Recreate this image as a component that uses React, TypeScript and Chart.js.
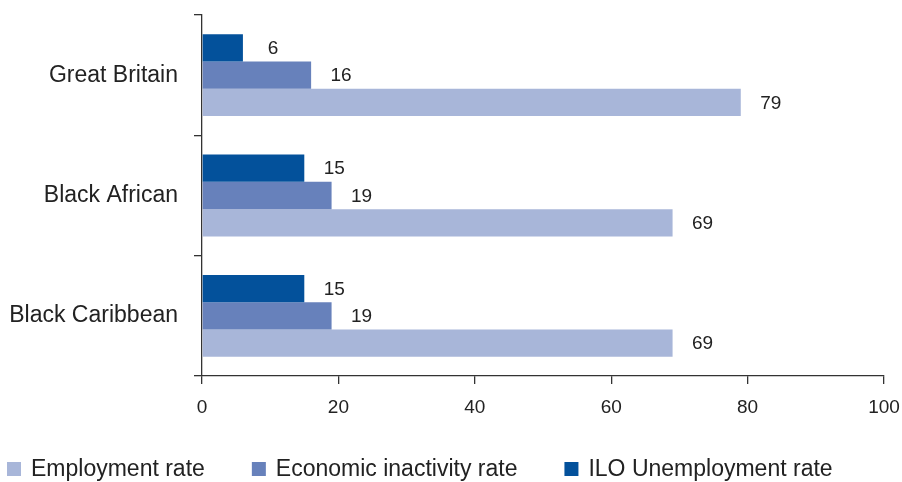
import React, { useEffect, useRef } from "react";
import { Chart, registerables } from "chart.js";

Chart.register(...registerables);

const categories = ["Great Britain", "Black African", "Black Caribbean"];
const unemploymentRate = [6, 15, 15];
const inactivityRate = [16, 19, 19];
const employmentRate = [79, 69, 69];
const xTicks = [0, 20, 40, 60, 80, 100];

const COLOR_UNEMP = "#03519b";
const COLOR_INACT = "#6781bb";
const COLOR_EMP = "#a8b6d9";
const AXIS = "#333333";
const TEXT = "#222222";
const FONT = "'Liberation Sans', Arial, sans-serif";

// Numbers printed just past the end of each bar
const valueLabels = {
  id: "valueLabels",
  afterDatasetsDraw(chart: any) {
    const ctx = chart.ctx;
    ctx.save();
    ctx.font = `19px ${FONT}`;
    ctx.fillStyle = TEXT;
    ctx.textAlign = "center";
    ctx.textBaseline = "middle";
    chart.data.datasets.forEach((ds: any, i: number) => {
      const meta = chart.getDatasetMeta(i);
      meta.data.forEach((bar: any, j: number) => {
        ctx.fillText(String(ds.data[j]), bar.x + 30, bar.y + 1);
      });
    });
    ctx.restore();
  },
};

// Bottom legend: square swatch, label, listed bottom series first
const bottomLegend = {
  id: "bottomLegend",
  afterDraw(chart: any) {
    const ctx = chart.ctx;
    const items = [...chart.data.datasets].reverse();
    const cy = 469;
    let x = 7;
    ctx.save();
    ctx.font = `23px ${FONT}`;
    ctx.textBaseline = "middle";
    ctx.textAlign = "left";
    items.forEach((ds: any) => {
      ctx.fillStyle = ds.backgroundColor;
      ctx.fillRect(x, cy - 7, 14, 14);
      const tx = x + 24;
      ctx.fillStyle = TEXT;
      ctx.fillText(ds.label, tx, cy + 1);
      x = tx + ctx.measureText(ds.label).width + 47;
    });
    ctx.restore();
  },
};

export default function App() {
  const ref = useRef<HTMLCanvasElement>(null);

  useEffect(() => {
    document.body.style.margin = "0";
    const chart = new Chart(ref.current!, {
      type: "bar",
      data: {
        labels: categories,
        datasets: [
          { label: "ILO Unemployment rate", data: unemploymentRate, backgroundColor: COLOR_UNEMP },
          { label: "Economic inactivity rate", data: inactivityRate, backgroundColor: COLOR_INACT },
          { label: "Employment rate", data: employmentRate, backgroundColor: COLOR_EMP },
        ],
      },
      options: {
        indexAxis: "y",
        animation: false,
        responsive: false,
        maintainAspectRatio: false,
        layout: { padding: { top: 15, right: 18, left: 0, bottom: 46 } },
        datasets: { bar: { categoryPercentage: 0.68, barPercentage: 1.0 } },
        scales: {
          x: {
            min: 0,
            max: 100,
            afterBuildTicks: (scale: any) => {
              scale.ticks = xTicks.map((v) => ({ value: v }));
            },
            afterFit: (scale: any) => {
              scale.height = 60;
              scale.paddingLeft = 0;
              scale.paddingRight = 0;
            },
            grid: { drawOnChartArea: false, tickLength: 8, color: AXIS, lineWidth: 1.3 },
            border: { color: AXIS, width: 1.3 },
            ticks: { color: TEXT, font: { family: FONT, size: 19 }, padding: 12 },
          },
          y: {
            afterFit: (scale: any) => {
              scale.width = 202;
              scale.paddingTop = 0;
              scale.paddingBottom = 0;
            },
            grid: { drawOnChartArea: false, tickLength: 8, color: AXIS, lineWidth: 1.3 },
            border: { color: AXIS, width: 1.3 },
            ticks: { color: TEXT, font: { family: FONT, size: 23 }, padding: 16 },
          },
        },
        plugins: {
          tooltip: { enabled: false },
          legend: { display: false },
        },
      },
      plugins: [valueLabels, bottomLegend],
    });
    return () => chart.destroy();
  }, []);

  return <canvas ref={ref} width={902} height={482} style={{ display: "block" }} />;
}
